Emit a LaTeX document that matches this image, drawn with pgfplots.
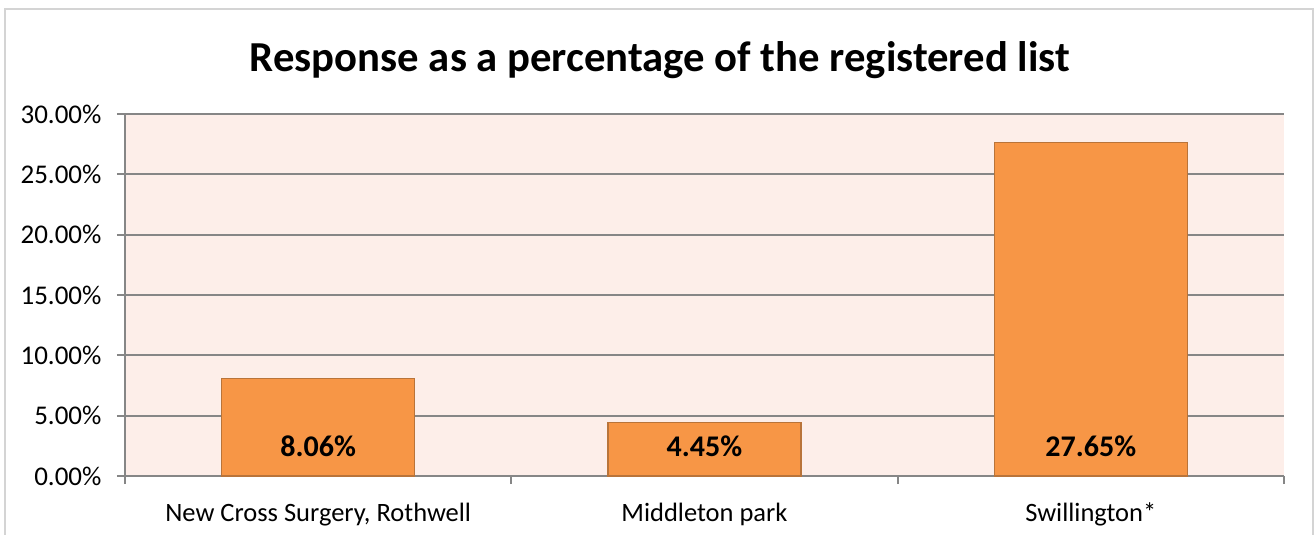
\documentclass[border=0pt]{standalone}
\usepackage{pgfplots}
\pgfplotsset{compat=1.18}
\usepackage{fontspec}
\setmainfont{Carlito}
\pgfkeys{/pgf/number format/assume math mode=true}
\definecolor{bgpink}{HTML}{FDEEE9}
\definecolor{barfill}{HTML}{F79646}
\definecolor{bardraw}{HTML}{B9743A}
\definecolor{gridgray}{HTML}{868686}
\definecolor{framegray}{HTML}{D4D4D4}
\begin{document}
\begin{tikzpicture}
\useasboundingbox (-125pt,-59pt) rectangle (1189pt,476pt);
\draw[framegray, line width=1.5pt] (-120pt,-80pt) -- (-120pt,467pt) -- (1188pt,467pt) -- (1188pt,-80pt);
\node[anchor=base, font=\fontsize{42.7}{48}\selectfont\bfseries] at (535pt,404pt) {Response as a percentage of the registered list};
\begin{axis}[
  at={(0pt,0pt)}, anchor=south west,
  scale only axis, width=1159pt, height=362pt,
  xmin=-0.5, xmax=2.5, ymin=0, ymax=30,
  ybar, bar width=193pt, bar shift=0pt,
  axis lines*=left,
  axis line style={gridgray, line width=1.8pt},
  axis background/.style={fill=bgpink},
  ymajorgrids, major grid style={gridgray, line width=1.8pt},
  ytick={0,5,10,15,20,25,30},
  yticklabel={\pgfmathprintnumber[fixed,fixed zerofill,precision=2,assume math mode=true]{\tick}\%},
  yticklabel style={font=\fontsize{27}{30}\selectfont, black, xshift=-12pt},
  xtick={0,1,2},
  xticklabels={{New Cross Surgery, Rothwell}, {Middleton park}, {Swillington*}},
  xticklabel style={font=\fontsize{26.5}{30}\selectfont, black, anchor=base, yshift=-37pt},
  minor xtick={-0.5,0.5,1.5,2.5},
  major x tick style={draw=none},
  minor x tick style={gridgray, line width=1.8pt},
  minor tick length=8pt,
  y tick style={gridgray, line width=1.8pt},
  major tick length=8pt,
  tick align=outside,
  clip=false,
]
\addplot[fill=barfill, draw=bardraw, line width=1.5pt] coordinates {(0,8.06) (1,4.45) (2,27.65)};
\addplot[draw=none, fill=none, point meta=explicit,
  nodes near coords={\pgfmathprintnumber[fixed,fixed zerofill,precision=2,assume math mode=true]{\pgfplotspointmeta}\%},
  every node near coord/.style={anchor=base, yshift=19pt, font=\fontsize{30}{34}\selectfont\bfseries, black}]
  coordinates {(0,0) [8.06] (1,0) [4.45] (2,0) [27.65]};
\end{axis}
\end{tikzpicture}
\end{document}
